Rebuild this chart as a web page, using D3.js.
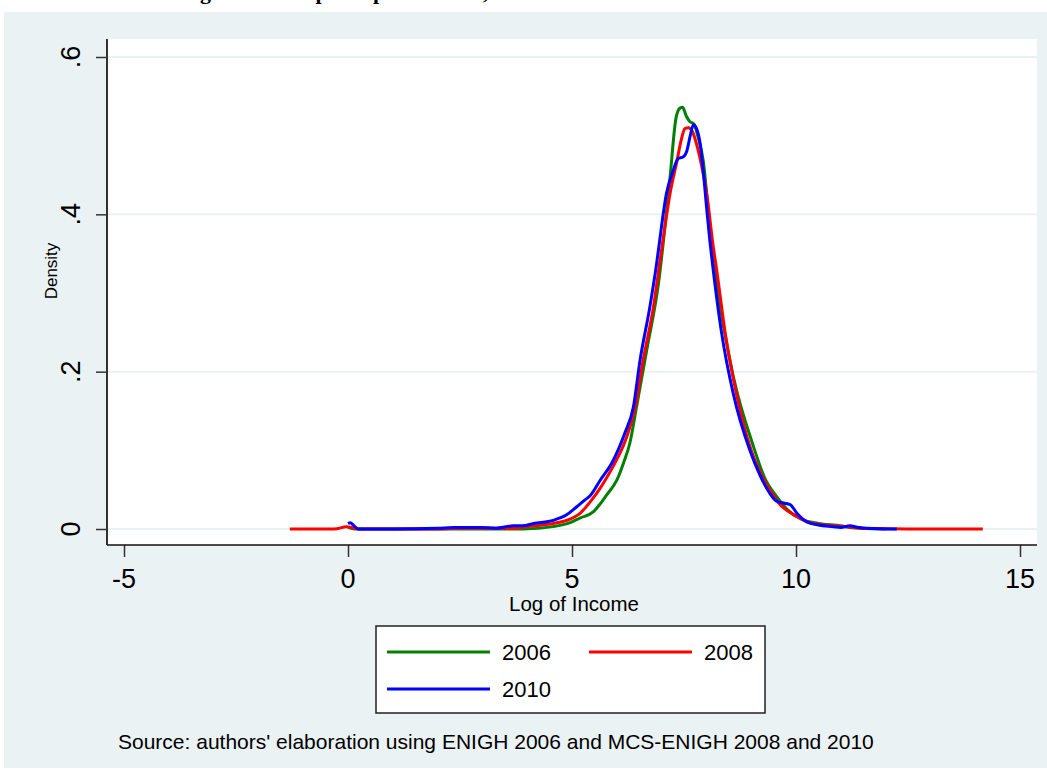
<!DOCTYPE html>
<html lang="en">
<head>
<meta charset="utf-8" />
<title>Log of Income density</title>
<script src="https://d3js.org/d3.v7.min.js"></script>
<style>
  body { margin: 0; background: #fff; }
  svg { display: block; font-family: "Liberation Sans", Arial, sans-serif; }
</style>
</head>
<body>
<div id="root"></div>
<script>
// values (log income, density)
const years = ["2006", "2008", "2010"];
const colors = ["#008000", "#ff0000", "#0000ff"];

const x2006 = [0.0, 0.15, 3.9, 4.58, 4.96, 5.18, 5.48, 5.63, 5.77, 6.0, 6.15, 6.29, 6.44, 6.67, 6.93, 7.19, 7.32, 7.41, 7.47, 7.55, 7.63, 7.72, 7.81, 7.93, 8.05, 8.15, 8.23, 8.6, 9.05, 9.3, 9.57, 9.8, 10.1, 10.5, 11.0, 11.2, 12.0];
const d2006 = [0.002, 0.0, 0.0, 0.003, 0.008, 0.014, 0.022, 0.032, 0.043, 0.062, 0.084, 0.109, 0.155, 0.228, 0.312, 0.448, 0.522, 0.535, 0.536, 0.525, 0.518, 0.515, 0.499, 0.468, 0.4, 0.345, 0.312, 0.194, 0.105, 0.065, 0.041, 0.025, 0.013, 0.007, 0.004, 0.002, 0.0];

const x2008 = [-1.3, -0.3, -0.03, 0.15, 0.3, 2.0, 2.5, 3.7, 4.14, 4.58, 4.88, 5.18, 5.44, 5.63, 5.74, 5.96, 6.22, 6.41, 6.59, 6.82, 7.0, 7.2, 7.34, 7.44, 7.52, 7.6, 7.69, 7.8, 7.9, 8.01, 8.15, 8.23, 8.42, 8.67, 9.0, 9.25, 9.49, 9.6, 10.02, 10.31, 10.83, 11.3, 11.6, 12.5, 14.17];
const d2008 = [0.0, 0.0, 0.003, 0.001, 0.0, 0.0, 0.001, 0.001, 0.004, 0.007, 0.011, 0.02, 0.037, 0.052, 0.062, 0.084, 0.117, 0.155, 0.215, 0.283, 0.355, 0.43, 0.467, 0.495, 0.509, 0.51, 0.505, 0.485, 0.46, 0.425, 0.36, 0.329, 0.249, 0.172, 0.1, 0.066, 0.043, 0.034, 0.016, 0.008, 0.004, 0.002, 0.0005, 0.0, 0.0];

const x2010 = [0.0, 0.05, 0.12, 0.23, 1.0, 2.0, 2.35, 2.95, 3.3, 3.69, 3.9, 4.14, 4.58, 4.88, 5.1, 5.29, 5.4, 5.63, 5.89, 6.18, 6.37, 6.52, 6.74, 6.89, 6.93, 7.11, 7.26, 7.37, 7.48, 7.56, 7.64, 7.71, 7.78, 7.86, 7.93, 8.01, 8.08, 8.12, 8.34, 8.6, 8.97, 9.2, 9.42, 9.55, 9.72, 9.87, 10.02, 10.24, 10.5, 10.83, 11.0, 11.2, 11.4, 11.58, 12.25];
const d2010 = [0.007, 0.008, 0.005, 0.0, 0.0, 0.0008, 0.002, 0.002, 0.001, 0.004, 0.004, 0.007, 0.011, 0.018, 0.028, 0.037, 0.042, 0.062, 0.084, 0.122, 0.155, 0.215, 0.283, 0.338, 0.355, 0.427, 0.456, 0.471, 0.473, 0.48, 0.5, 0.514, 0.509, 0.49, 0.455, 0.405, 0.365, 0.345, 0.249, 0.172, 0.1, 0.068, 0.045, 0.036, 0.033, 0.031, 0.02, 0.009, 0.005, 0.003, 0.002, 0.004, 0.002, 0.001, 0.0];

const xTicks = [-5, 0, 5, 10, 15];
const yTicks = [0, 0.2, 0.4, 0.6];
const yTickLabels = ["0", ".2", ".4", ".6"];

const series = [
  {name: years[0], xs: x2006, ds: d2006, color: colors[0]},
  {name: years[1], xs: x2008, ds: d2008, color: colors[1]},
  {name: years[2], xs: x2010, ds: d2010, color: colors[2]}
];

const width = 1047, height = 771;
const plot = {left: 107, right: 1037, top: 39, bottom: 545};

const x = d3.scaleLinear().domain([-5, 15]).range([124, 1020]);
const y = d3.scaleLinear().domain([0, 0.6]).range([529, 57]);

const svg = d3.select("#root").append("svg")
    .attr("width", width)
    .attr("height", height);

// outer graph region
svg.append("rect")
    .attr("x", 4).attr("y", 12)
    .attr("width", width - 4).attr("height", 756)
    .attr("fill", "#eaf2f3");

// title: in the reference only its descenders show at the top edge
svg.append("text")
    .attr("x", 30).attr("y", -1)
    .attr("font-family", "'Liberation Serif', 'Times New Roman', serif")
    .attr("font-weight", "bold")
    .attr("font-size", 22)
    .text("Distribution of Log of Income per capita in 2006, 2008 and 2010");

// plot region
svg.append("rect")
    .attr("x", plot.left).attr("y", plot.top)
    .attr("width", plot.right - plot.left).attr("height", plot.bottom - plot.top)
    .attr("fill", "#fff");

// gridlines
svg.append("g")
  .selectAll("line")
  .data(yTicks)
  .join("line")
    .attr("x1", plot.left).attr("x2", plot.right)
    .attr("y1", d => y(d)).attr("y2", d => y(d))
    .attr("stroke", "#eaf2f3")
    .attr("stroke-width", 2);

// y axis
const yAxis = svg.append("g")
    .attr("transform", `translate(${plot.left},0)`)
    .call(d3.axisLeft(y).tickValues(yTicks).tickSize(11).tickFormat(""));
yAxis.select(".domain").remove();
yAxis.selectAll(".tick line").attr("stroke", "#333").attr("stroke-width", 1.5);
svg.append("line")
    .attr("x1", plot.left).attr("x2", plot.left)
    .attr("y1", plot.top).attr("y2", plot.bottom)
    .attr("stroke", "#333").attr("stroke-width", 2);

svg.append("g")
  .selectAll("text")
  .data(yTicks)
  .join("text")
    .attr("transform", d => `translate(80,${y(d)}) rotate(-90)`)
    .attr("text-anchor", "middle")
    .attr("font-size", 27)
    .attr("fill", "#000")
    .text((d, i) => yTickLabels[i]);

svg.append("text")
    .attr("transform", "translate(57,271) rotate(-90)")
    .attr("text-anchor", "middle")
    .attr("font-size", 17)
    .text("Density");

// x axis
const xAxis = svg.append("g")
    .attr("transform", `translate(0,${plot.bottom})`)
    .call(d3.axisBottom(x).tickValues(xTicks).tickSize(12).tickFormat(""));
xAxis.select(".domain").remove();
xAxis.selectAll(".tick line").attr("stroke", "#333").attr("stroke-width", 1.5);
svg.append("line")
    .attr("x1", plot.left).attr("x2", plot.right)
    .attr("y1", plot.bottom).attr("y2", plot.bottom)
    .attr("stroke", "#111").attr("stroke-width", 1.5);

svg.append("g")
  .selectAll("text")
  .data(xTicks)
  .join("text")
    .attr("x", d => x(d))
    .attr("y", 588)
    .attr("text-anchor", "middle")
    .attr("font-size", 27)
    .text(d => d);

svg.append("text")
    .attr("x", 574).attr("y", 611)
    .attr("text-anchor", "middle")
    .attr("font-size", 20.5)
    .text("Log of Income");

// density curves
const line = d3.line()
    .x(d => x(d[0]))
    .y(d => y(d[1]))
    .curve(d3.curveMonotoneX);

svg.append("g")
    .attr("fill", "none")
    .attr("stroke-width", 3)
    .attr("stroke-linejoin", "round")
  .selectAll("path")
  .data(series)
  .join("path")
    .attr("stroke", d => d.color)
    .attr("d", d => line(d.xs.map((v, i) => [v, d.ds[i]])));

// legend
const legend = svg.append("g");
legend.append("rect")
    .attr("x", 376).attr("y", 626)
    .attr("width", 389).attr("height", 87)
    .attr("fill", "#fff")
    .attr("stroke", "#222")
    .attr("stroke-width", 1.5);

const legendPos = [[387, 652], [589, 652], [387, 689]];
const items = legend.selectAll("g.item")
  .data(series)
  .join("g")
    .attr("class", "item")
    .attr("transform", (d, i) => `translate(${legendPos[i][0]},${legendPos[i][1]})`);
items.append("line")
    .attr("x1", 0).attr("x2", 103)
    .attr("stroke", d => d.color)
    .attr("stroke-width", 3);
items.append("text")
    .attr("x", 115).attr("y", 8)
    .attr("font-size", 22)
    .text(d => d.name);

// note
svg.append("text")
    .attr("x", 118).attr("y", 749)
    .attr("font-size", 21)
    .text("Source: authors' elaboration using ENIGH 2006 and MCS-ENIGH 2008 and 2010");
</script>
</body>
</html>
